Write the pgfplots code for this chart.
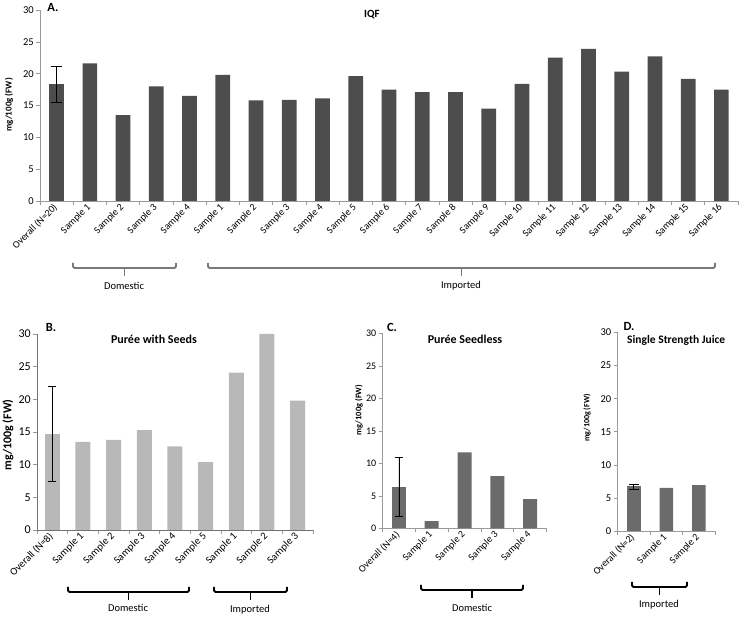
\documentclass[border=0pt]{standalone}
\usepackage{pgfplots}
\pgfplotsset{compat=1.18}
\usepackage{fontspec}
\setmainfont{Carlito}
\definecolor{barA}{HTML}{4D4D4D}
\definecolor{barB}{HTML}{B8B8B8}
\definecolor{barC}{HTML}{6B6B6B}
\definecolor{axisgray}{HTML}{9A9A9A}
\definecolor{brA}{HTML}{7A7A7A}
\pgfplotsset{
  panel/.style={
    scale only axis, axis lines=left,
    axis line style={axisgray, line width=0.8pt, -},
    ymin=0, ymax=30, ytick={0,5,...,30},
    ybar, bar shift=0pt,
    major x tick style={draw=none},
    tick align=outside, tick style={axisgray, line width=0.6pt},
    major tick length=4pt, minor tick length=4pt,
    /pgf/number format/assume math mode=true,
    clip=false,
    xticklabel style={rotate=45, anchor=east, inner sep=1pt},
    yticklabel style={inner sep=2pt},
  },
  ebar/.style={error bars/.cd, y dir=both, y explicit,
    error bar style={black, line width=0.7pt},
    error mark options={black, rotate=90, mark size=#1, line width=0.7pt}},
}
\newcommand{\bracket}[5]{% x1 x2 yline color width
  \draw[#4, line width=#5, rounded corners=1.5pt] (#1pt,#3pt+5pt) -- (#1pt,#3pt) -- (#2pt,#3pt) -- (#2pt,#3pt+5pt);
  \draw[#4, line width=#5] ({(#1+#2)/2*1pt},#3pt) -- ({(#1+#2)/2*1pt},#3pt-8pt);
}
\begin{document}
\begin{tikzpicture}
\path[use as bounding box] (0,0) rectangle (751pt,617pt);

% ---------- Panel A ----------
\begin{axis}[panel, at={(40pt,416pt)}, anchor=south west,
  width=698pt, height=191pt, xmin=-0.5, xmax=20.5,
  xtick={0,...,20},
  minor xtick={-0.5,0.5,...,20.5},
  xticklabels={Overall (N=20),Sample 1,Sample 2,Sample 3,Sample 4,Sample 1,Sample 2,Sample 3,Sample 4,Sample 5,Sample 6,Sample 7,Sample 8,Sample 9,Sample 10,Sample 11,Sample 12,Sample 13,Sample 14,Sample 15,Sample 16},
  xticklabel style={font=\fontsize{10}{12}\selectfont},
  yticklabel style={font=\fontsize{10.5}{12}\selectfont},
  bar width=14.7pt]
\addplot[fill=barA, draw=none] coordinates {
 (1,21.6) (2,13.5) (3,18.0) (4,16.5) (5,19.8) (6,15.8) (7,15.9) (8,16.1)
 (9,19.6) (10,17.5) (11,17.1) (12,17.1) (13,14.5) (14,18.4) (15,22.5)
 (16,23.9) (17,20.3) (18,22.7) (19,19.2) (20,17.5)};
\addplot[fill=barA, draw=none, ebar=5.5pt] coordinates {(0,18.35) +- (0,2.8)};
\end{axis}
\node[rotate=90, font=\bfseries\fontsize{9}{11}\selectfont] at (9pt,512pt) {mg/100g (FW)};
\node[font=\bfseries\fontsize{12.5}{14}\selectfont] at (53pt,609pt) {A.};
\node[font=\bfseries\fontsize{11}{13}\selectfont] at (372pt,602pt) {IQF};
\bracket{73}{176}{349}{brA}{1.8pt}
\bracket{208}{715}{349}{brA}{1.8pt}
\node[font=\fontsize{10.5}{12}\selectfont] at (124pt,331pt) {Domestic};
\node[font=\fontsize{10.5}{12}\selectfont] at (461pt,331pt) {Imported};

% ---------- Panel B ----------
\begin{axis}[panel, at={(37pt,87pt)}, anchor=south west,
  width=276pt, height=196pt, xmin=-0.5, xmax=8.5,
  axis line style={black!55, line width=0.8pt, -},
  xtick={0,...,8},
  minor xtick={-0.5,0.5,...,8.5},
  xticklabels={Overall (N=8),Sample 1,Sample 2,Sample 3,Sample 4,Sample 5,Sample 1,Sample 2,Sample 3},
  xticklabel style={font=\fontsize{10.5}{12}\selectfont},
  yticklabel style={font=\fontsize{12}{14}\selectfont},
  bar width=15pt]
\addplot[fill=barB, draw=none] coordinates {
 (1,13.5) (2,13.8) (3,15.3) (4,12.8) (5,10.4) (6,24.1) (7,30) (8,19.8)};
\addplot[fill=barB, draw=none, ebar=4pt] coordinates {(0,14.7) +- (0,7.3)};
\end{axis}
\node[rotate=90, font=\bfseries\fontsize{12}{14}\selectfont] at (8pt,182pt) {mg/100g (FW)};
\node[font=\bfseries\fontsize{12.5}{14}\selectfont] at (51pt,290pt) {B.};
\node[font=\bfseries\fontsize{12}{14}\selectfont] at (154pt,278pt) {Purée with Seeds};
\bracket{68}{189}{25}{black}{1.8pt}
\bracket{214}{287}{25}{black}{1.8pt}
\node[font=\fontsize{10.5}{12}\selectfont] at (128pt,9pt) {Domestic};
\node[font=\fontsize{10.5}{12}\selectfont] at (250pt,7pt) {Imported};

% ---------- Panel C ----------
\begin{axis}[panel, at={(382.5pt,88.5pt)}, anchor=south west,
  width=164pt, height=195pt, xmin=-0.5, xmax=4.5,
  xtick={0,...,4},
  minor xtick={-0.5,0.5,...,4.5},
  xticklabels={Overall (N=4),Sample 1,Sample 2,Sample 3,Sample 4},
  xticklabel style={font=\fontsize{10}{12}\selectfont},
  yticklabel style={font=\fontsize{10}{12}\selectfont},
  bar width=14pt]
\addplot[fill=barC, draw=none] coordinates {
 (1,1.15) (2,11.7) (3,8.05) (4,4.5)};
\addplot[fill=barC, draw=none, ebar=4pt] coordinates {(0,6.35) +- (0,4.55)};
\end{axis}
\node[rotate=90, font=\bfseries\fontsize{8.5}{10}\selectfont] at (359pt,207pt) {mg/100g (FW)};
\node[font=\bfseries\fontsize{12.5}{14}\selectfont] at (392pt,290pt) {C.};
\node[font=\bfseries\fontsize{12}{14}\selectfont] at (465pt,278pt) {Purée Seedless};
\bracket{421}{523}{27}{black}{1.8pt}
\node[font=\fontsize{10.5}{12}\selectfont] at (472pt,9pt) {Domestic};

% ---------- Panel D ----------
\begin{axis}[panel, at={(617.5pt,86pt)}, anchor=south west,
  width=97.5pt, height=198.5pt, xmin=-0.5, xmax=2.5,
  xtick={0,...,2},
  minor xtick={-0.5,0.5,...,2.5},
  xticklabels={Overall (N=2),Sample 1,Sample 2},
  xticklabel style={font=\fontsize{10}{12}\selectfont},
  yticklabel style={font=\fontsize{10.5}{12}\selectfont},
  bar width=13.5pt]
\addplot[fill=barC, draw=none] coordinates {(1,6.5) (2,6.95)};
\addplot[fill=barC, draw=none, ebar=5pt] coordinates {(0,6.73) +- (0,0.38)};
\end{axis}
\node[rotate=90, font=\bfseries\fontsize{8}{10}\selectfont] at (587pt,199pt) {mg/100g (FW)};
\node[font=\bfseries\fontsize{12.5}{14}\selectfont] at (629pt,291pt) {D.};
\node[anchor=west, inner sep=0pt, font=\bfseries\fontsize{11.5}{14}\selectfont] at (627pt,277pt) {Single Strength Juice};
\bracket{632}{687}{30}{black}{1.8pt}
\node[font=\fontsize{10.5}{12}\selectfont] at (659pt,12pt) {Imported};
\end{tikzpicture}
\end{document}
